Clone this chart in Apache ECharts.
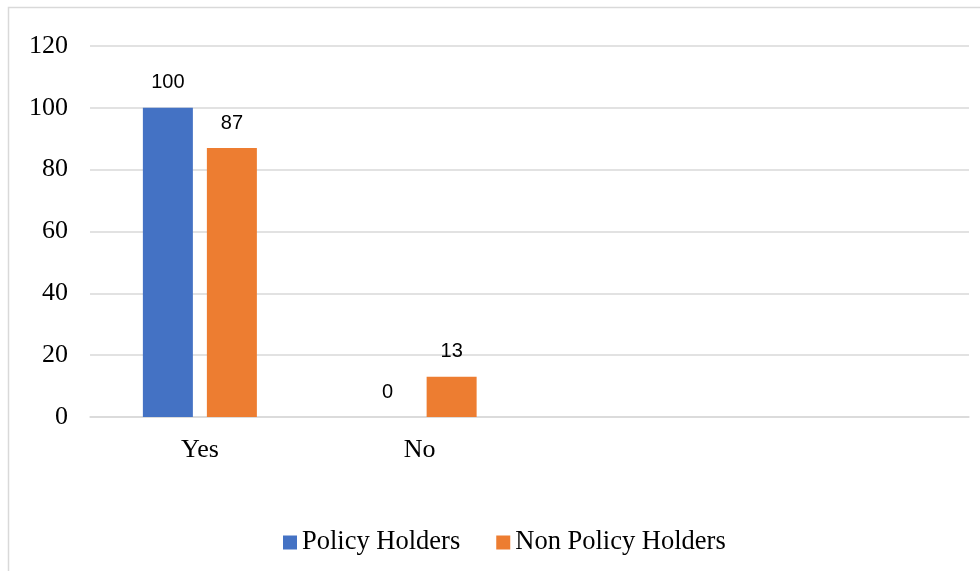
<!DOCTYPE html>
<html>
<head>
<meta charset="utf-8">
<script src="https://cdn.jsdelivr.net/npm/echarts@6/dist/echarts.min.js"></script>
<style>
  html, body { margin: 0; padding: 0; background: #fff; }
  #chart { width: 980px; height: 571px; }
</style>
</head>
<body>
<div id="chart"></div>
<script>
// Survey answers, in percent, for each group
const categories = ['Yes', 'No', '', ''];
const policyHolders = [100, 0, null, null];
const nonPolicyHolders = [87, 13, null, null];
const yTicks = { min: 0, max: 120, interval: 20 };

const serif = '"Liberation Serif", "Times New Roman", serif';
const sans = '"Liberation Sans", Arial, sans-serif';

const chart = echarts.init(document.getElementById('chart'));

const valueLabel = {
  show: true,
  position: 'top',
  distance: 15,
  fontFamily: sans,
  fontSize: 20,
  color: '#000'
};

chart.setOption({
  animation: false,
  backgroundColor: '#fff',
  graphic: [{
    type: 'rect',
    shape: { x: 8.5, y: 7.5, width: 1000, height: 600 },
    style: { fill: 'none', stroke: '#d9d9d9', lineWidth: 1.5 },
    silent: true
  }],
  grid: { left: 90, right: 11, top: 46, bottom: 154 },
  legend: {
    left: 278,
    top: 524,
    icon: 'rect',
    itemWidth: 14,
    itemHeight: 14,
    itemGap: 36,
    textStyle: { fontFamily: serif, fontSize: 26.5, color: '#000' },
    data: ['Policy Holders', 'Non Policy Holders']
  },
  xAxis: {
    type: 'category',
    data: categories,
    axisLine: { show: true, lineStyle: { color: '#d9d9d9', width: 1.5 } },
    axisTick: { show: false },
    axisLabel: { fontFamily: serif, fontSize: 26, color: '#000', margin: 20 }
  },
  yAxis: {
    type: 'value',
    min: yTicks.min,
    max: yTicks.max,
    interval: yTicks.interval,
    axisLine: { show: false },
    axisTick: { show: false },
    splitLine: { lineStyle: { color: '#d9d9d9', width: 1.5 } },
    axisLabel: { fontFamily: serif, fontSize: 26, color: '#000', margin: 22 }
  },
  series: [
    {
      name: 'Policy Holders',
      type: 'bar',
      data: policyHolders,
      barWidth: 50,
      barGap: '28%',
      itemStyle: { color: '#4472C4' },
      label: valueLabel
    },
    {
      name: 'Non Policy Holders',
      type: 'bar',
      data: nonPolicyHolders,
      barWidth: 50,
      itemStyle: { color: '#ED7D31' },
      label: valueLabel
    }
  ]
});
</script>
</body>
</html>
